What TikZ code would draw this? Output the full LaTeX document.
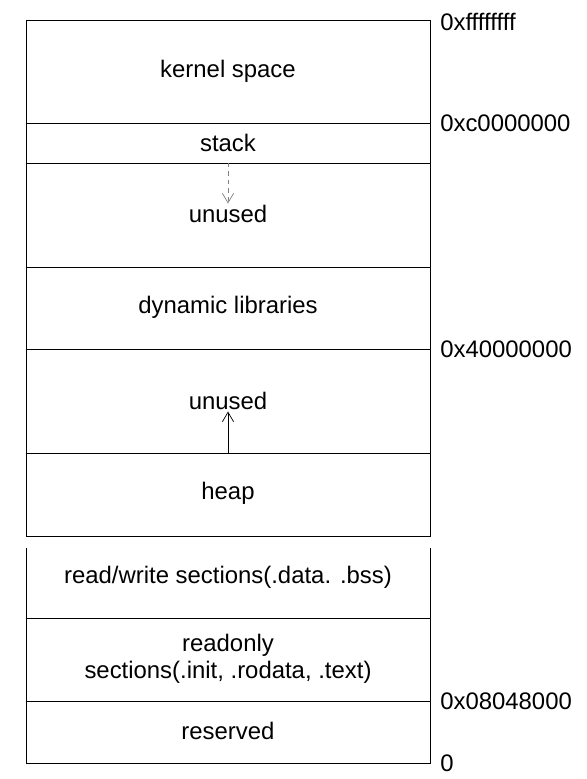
\documentclass[tikz,border=0pt]{standalone}
\usepackage{fontspec}
\setmainfont{Liberation Sans}
\usetikzlibrary{arrows.meta,positioning}

\begin{document}
\begin{tikzpicture}[
  x=0.025cm, y=-0.025cm,
  font=\fontsize{17}{19}\selectfont,
  region/.style={draw, line width=0.6pt},
  lbl/.style={align=center, inner sep=1pt},
  addr/.style={inner sep=0pt},
  growarr/.style={-{Straight Barb[length=2.4mm,width=2.8mm]}, line width=0.5pt}
]
  \useasboundingbox (0,0) rectangle (587,779);

  % upper block
  \draw[region] (26,20) rectangle (430,536);
  \draw[region] (26,123) -- (430,123);
  \draw[region] (26,163) -- (430,163);
  \draw[region] (26,267) -- (430,267);
  \draw[region] (26,349) -- (430,349);
  \draw[region] (26,453) -- (430,453);

  % lower block
  \draw[region] (26,548) -- (26,763) -- (430,763) -- (430,548);
  \draw[region] (26,618) -- (430,618);
  \draw[region] (26,701) -- (430,701);

  \node[lbl] (kernel) at (228,71) {kernel space};
  \node[lbl] (stack) at (228,143) {stack};
  \node[lbl] (free1) at (228,214) {unused};
  \node[lbl] (dynlib) at (228,307) {dynamic libraries};
  \node[lbl] (free2) at (228,401) {unused};
  \node[lbl] (heap) at (228,493) {heap};
  \node[lbl] (rwsec) at (228,577) {read/write sections(.data. .bss)};
  \node[lbl] (rosec) at (228,659) {readonly\\sections(.init, .rodata, .text)};
  \node[lbl] (resv) at (228,731) {reserved};

  % growth arrows
  \coordinate (stackend) at (228,163);
  \coordinate (heapend) at (228,453);
  \draw[growarr, dashed, gray] (stackend) -- (free1.north);
  \draw[growarr] (heapend) -- (free2.south);

  % addresses
  \coordinate (atop) at (430,22);
  \coordinate (akern) at (430,123);
  \coordinate (alib) at (430,349);
  \coordinate (atext) at (430,701);
  \coordinate (azero) at (430,763);
  \node[addr, right=0.25cm of atop] (addrtop) {0xffffffff};
  \node[addr, right=0.25cm of akern] (addrkern) {0xc0000000};
  \node[addr, right=0.25cm of alib] (addrlib) {0x40000000};
  \node[addr, right=0.25cm of atext] (addrtext) {0x08048000};
  \node[addr, right=0.25cm of azero] (addrzero) {0};
\end{tikzpicture}
\end{document}
